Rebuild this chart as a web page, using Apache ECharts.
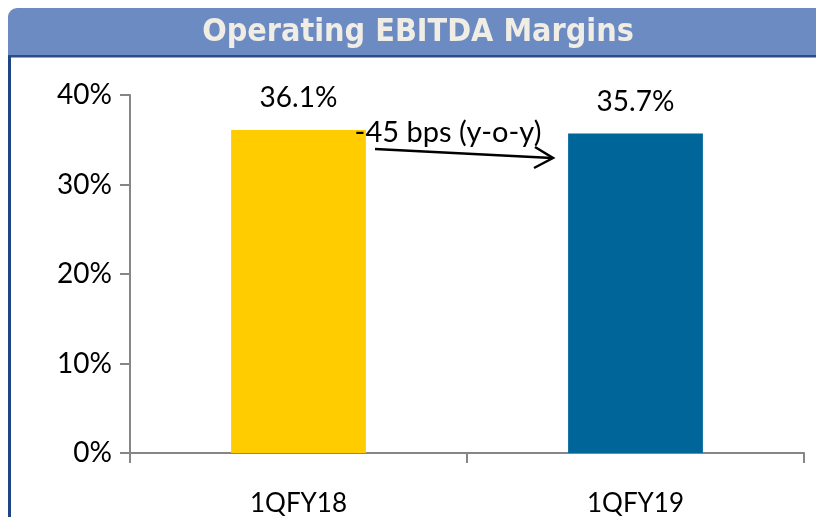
<!DOCTYPE html>
<html>
<head>
<meta charset="utf-8">
<script src="https://cdn.jsdelivr.net/npm/echarts@6/dist/echarts.min.js"></script>
<style>
  html, body { margin: 0; padding: 0; background: #fff; }
  #main { width: 816px; height: 517px; }
</style>
</head>
<body>
<div id="main"></div>
<script>
const categories = ['1QFY18', '1QFY19'];
const margins = [36.1, 35.7];
const barColors = ['#FFCC00', '#006699'];
const yTicks = [0, 10, 20, 30, 40];
const changeLabel = '-45 bps (y-o-y)';

const chart = echarts.init(document.getElementById('main'));
const font = 'Lato, "Liberation Sans", sans-serif';

const option = {
  animation: false,
  grid: { left: 130, right: 12, top: 95, bottom: 64 },
  xAxis: {
    type: 'category',
    data: categories,
    axisLine: { lineStyle: { color: '#868686', width: 2 } },
    axisTick: { show: true, length: 10, lineStyle: { color: '#868686', width: 2 } },
    axisLabel: { color: '#000', fontFamily: font, fontSize: 26, margin: 38 }
  },
  yAxis: {
    type: 'value',
    min: yTicks[0],
    max: yTicks[yTicks.length - 1],
    interval: 10,
    splitLine: { show: false },
    axisLine: { show: true, lineStyle: { color: '#868686', width: 2 } },
    axisTick: { show: true, length: 10, lineStyle: { color: '#868686', width: 2 } },
    axisLabel: { color: '#000', fontFamily: font, fontSize: 28, margin: 18, formatter: '{value}%' }
  },
  series: [{
    type: 'bar',
    barWidth: '40%',
    data: margins.map((v, i) => ({ value: v, itemStyle: { color: barColors[i] } })),
    label: {
      show: true,
      position: 'top',
      distance: 18,
      color: '#000',
      fontFamily: font,
      fontSize: 28,
      formatter: p => p.value.toFixed(1) + '%'
    }
  }],
  graphic: [
    {
      type: 'rect', z: 10,
      shape: { x: 8, y: 8, width: 816, height: 47, r: [9, 0, 0, 0] },
      style: { fill: '#6C8BC3' }
    },
    {
      type: 'rect', z: 10,
      shape: { x: 8, y: 55, width: 808, height: 2.5 },
      style: { fill: '#2C4C86' }
    },
    {
      type: 'rect', z: 10,
      shape: { x: 8, y: 56, width: 3, height: 470 },
      style: { fill: '#1F4583' }
    },
    {
      type: 'text', z: 11,
      x: 418, y: 33,
      style: {
        text: 'Operating EBITDA Margins',
        fill: '#F0EDE4',
        font: 'bold 32px "DejaVu Sans Condensed", "DejaVu Sans", sans-serif',
        align: 'center', verticalAlign: 'middle'
      }
    },
    {
      type: 'text', z: 11,
      x: 448, y: 133,
      style: {
        text: changeLabel,
        fill: '#000',
        font: '29px Lato, "Liberation Sans", sans-serif',
        align: 'center', verticalAlign: 'middle'
      }
    },
    {
      type: 'line', z: 11,
      shape: { x1: 375, y1: 149, x2: 552, y2: 158 },
      style: { stroke: '#000', lineWidth: 2.5 }
    },
    {
      type: 'polyline', z: 11,
      shape: { points: [[535, 147], [553, 158], [534, 168]] },
      style: { stroke: '#000', lineWidth: 2.5, fill: null }
    }
  ]
};
chart.setOption(option);
</script>
</body>
</html>
